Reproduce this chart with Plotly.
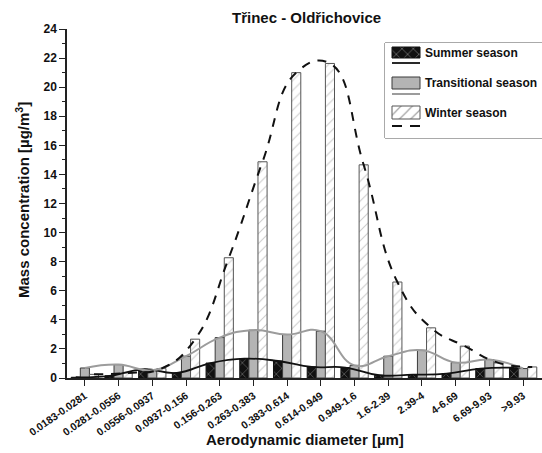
import plotly.graph_objects as go

# Size-fraction categories (aerodynamic diameter ranges, µm)
categories = ["0.0183-0.0281", "0.0281-0.0556", "0.0556-0.0937", "0.0937-0.156",
              "0.156-0.263", "0.263-0.383", "0.383-0.614", "0.614-0.949",
              "0.949-1.6", "1.6-2.39", "2.39-4", "4-6.69", "6.69-9.93", ">9.93"]

# Mass concentration per season [µg/m3]
summer = [0.05, 0.15, 0.60, 0.35, 1.03, 1.33, 1.17, 0.76, 0.72, 0.19, 0.23, 0.30, 0.65, 0.71]
transitional = [0.69, 0.92, 0.53, 1.50, 2.78, 3.29, 2.99, 3.22, 0.87, 1.50, 1.91, 1.06, 1.27, 0.65]
winter = [0.25, 0.35, 0.65, 2.67, 8.27, 14.87, 21.00, 21.63, 14.66, 6.60, 3.45, 2.19, 1.04, 0.76]

season_names = ["Summer season", "Transitional season", "Winter season"]
y_ticks = list(range(0, 25, 2))

FONT = "Liberation Sans, Arial, sans-serif"
W, H = 542, 453
ML, MR, MT, MB = 67, 0, 29, 75
BARGAP = 0.19
bar_w = (1 - BARGAP) / 3
pos = list(range(len(categories)))
plot_w = W - ML - MR
plot_h = H - MT - MB


def px_x(px):
    return (px - ML) / plot_w


def px_y(py):
    return (H - MB - py) / plot_h


fig = go.Figure()

bar_styles = [
    dict(color="#111111", line=dict(color="#111111", width=1),
         pattern=dict(shape="x", fgcolor="#d0d0d0", bgcolor="#111111", size=8, solidity=0.15)),
    dict(color="#b4b4b4", line=dict(color="#3a3a3a", width=1)),
    dict(color="white", line=dict(color="#555555", width=1),
         pattern=dict(shape="/", fgcolor="#9a9a9a", bgcolor="white", size=7, solidity=0.15)),
]
series = [summer, transitional, winter]

for name, vals, st in zip(season_names, series, bar_styles):
    fig.add_trace(go.Bar(x=pos, y=vals, name=name, marker=st, showlegend=False))

# Smoothed trend curves through each season's bar tops
line_styles = [
    dict(color="#111111", width=1.8),
    dict(color="#9c9c9c", width=2),
    dict(color="#111111", width=2, dash="9px,8px"),
]
for k, (vals, ls) in enumerate(zip(series, line_styles)):
    off = (k - 1) * bar_w
    fig.add_trace(go.Scatter(x=[p + off for p in pos], y=vals, mode="lines",
                             line=dict(shape="spline", smoothing=1.3, **ls),
                             showlegend=False, hoverinfo="skip"))

# Legend panel drawn on an auxiliary pixel-scaled axis pair
box_left, box_top, box_bottom = 385, 43, 138
x2_dom0 = px_x(box_left)
y2_dom = [px_y(box_bottom), px_y(box_top)]

sw_x, sw_w = 406, 28
sw_tops = [47, 77, 106]
sw_h = [11, 12, 13]
fig.add_trace(go.Bar(
    x=[sw_x] * 3, y=sw_h, base=sw_tops, width=sw_w, xaxis="x2", yaxis="y2",
    marker=dict(color=["#111111", "#b4b4b4", "white"],
                line=dict(color=["#111111", "#3a3a3a", "#555555"], width=1),
                pattern=dict(shape=["x", "", "/"], fgcolor=["#d0d0d0", "#b4b4b4", "#9a9a9a"],
                             bgcolor=["#111111", "#b4b4b4", "white"], size=8, solidity=0.15)),
    showlegend=False, hoverinfo="skip"))
line_y = [63, 94, 126]
for ly, ls in zip(line_y, line_styles):
    st = dict(ls)
    if "dash" in st:
        st["dash"] = "10px,8px"
    fig.add_trace(go.Scatter(x=[sw_x - sw_w / 2, sw_x + sw_w / 2], y=[ly, ly], mode="lines",
                             line=st, xaxis="x2", yaxis="y2", showlegend=False, hoverinfo="skip"))
for name, t, h in zip(season_names, sw_tops, sw_h):
    fig.add_annotation(x=423, y=t + h / 2, xref="x2", yref="y2", text=name, showarrow=False,
                       xanchor="left", yanchor="middle",
                       font=dict(family=FONT, size=12, color="#111", weight="bold"))

fig.add_shape(type="rect", xref="paper", yref="paper", x0=x2_dom0, x1=1.0,
              y0=y2_dom[0], y1=y2_dom[1], line=dict(color="#555555", width=1),
              fillcolor="white", layer="below")

# Titles
fig.add_annotation(x=px_x(306), y=px_y(17), xref="paper", yref="paper",
                   text="Třinec - Oldřichovice", showarrow=False, yanchor="middle",
                   font=dict(family=FONT, size=15, color="#111", weight="bold"))
fig.add_annotation(x=px_x(305), y=px_y(439), xref="paper", yref="paper",
                   text="Aerodynamic diameter [µm]", showarrow=False, yanchor="middle",
                   font=dict(family=FONT, size=15, color="#111", weight="bold"))
fig.add_annotation(x=px_x(22), y=px_y(200), xref="paper", yref="paper",
                   text="Mass concentration [µg/m<sup>3</sup>]", showarrow=False, textangle=-90,
                   xanchor="center", yanchor="middle",
                   font=dict(family=FONT, size=15, color="#111", weight="bold"))

fig.update_layout(
    width=W, height=H, margin=dict(l=ML, r=MR, t=MT, b=MB),
    paper_bgcolor="white", plot_bgcolor="white",
    barmode="group", bargap=BARGAP, bargroupgap=0,
    font=dict(family=FONT, color="#111"),
    xaxis=dict(range=[-0.53, 13.56], tickmode="array", tickvals=pos, ticktext=categories,
               tickangle=-35, tickfont=dict(family=FONT, size=10.5, weight="bold", color="#111"),
               showline=True, linecolor="#222", linewidth=1.5, ticks="outside", ticklen=6,
               tickcolor="#222", showgrid=False, zeroline=False),
    yaxis=dict(range=[0, 24], tickvals=y_ticks, ticks="outside", ticklen=6, tickcolor="#222",
               tickfont=dict(family=FONT, size=12, weight="bold", color="#111"),
               showline=True, linecolor="#222", linewidth=1.5, showgrid=False, zeroline=False,
               minor=dict(dtick=1, ticks="outside", ticklen=3, tickcolor="#222")),
    xaxis2=dict(domain=[x2_dom0, 1.0], range=[box_left, W], anchor="y2", visible=False, fixedrange=True),
    yaxis2=dict(domain=y2_dom, range=[box_bottom, box_top], anchor="x2", visible=False, fixedrange=True),
)

fig.write_html("out.html")
